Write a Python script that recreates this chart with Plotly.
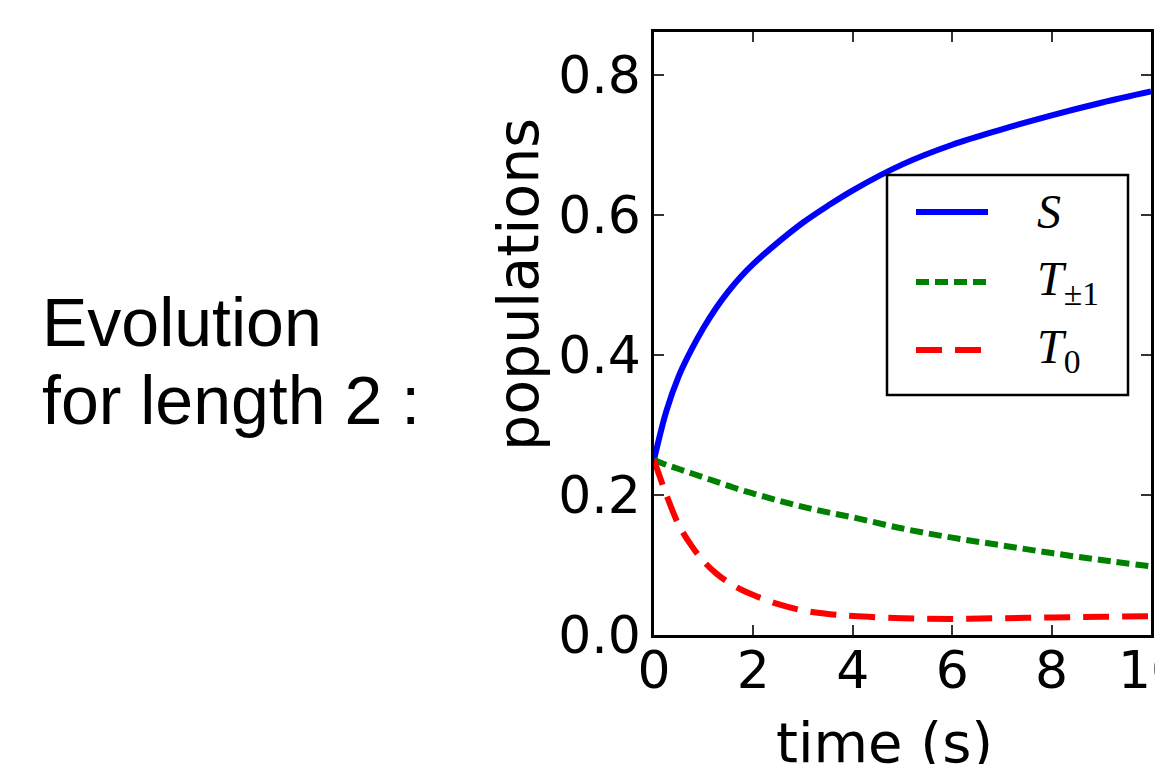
import plotly.graph_objects as go

# ---- data ----
time_s = [0, 0.25, 0.5, 0.75, 1, 1.25, 1.5, 1.75, 2, 2.5, 3, 3.5, 4, 5, 6, 7, 8, 9, 10]
pop_S = [0.25, 0.32, 0.37, 0.407, 0.439, 0.467, 0.491, 0.512, 0.530, 0.561, 0.589, 0.613, 0.635, 0.672, 0.700, 0.722, 0.742, 0.760, 0.776]
pop_Tpm1 = [0.25, 0.243, 0.237, 0.231, 0.225, 0.219, 0.213, 0.207, 0.202, 0.192, 0.183, 0.175, 0.168, 0.152, 0.139, 0.128, 0.117, 0.107, 0.098]
pop_T0 = [0.25, 0.200, 0.157, 0.128, 0.105, 0.088, 0.075, 0.065, 0.057, 0.044, 0.035, 0.030, 0.027, 0.024, 0.023, 0.024, 0.025, 0.026, 0.027]

x_ticks = [0, 2, 4, 6, 8, 10]
y_ticks = [0.0, 0.2, 0.4, 0.6, 0.8]
y_tick_text = ["0.0", "0.2", "0.4", "0.6", "0.8"]

legend_names = ["<i>S</i>", "<i>T</i><sub>±1</sub>", "<i>T</i><sub>0</sub>"]
colors = ["#0000ff", "#008000", "#ff0000"]
dashes = ["solid", "13px,6px", "26px,13px"]
series = [pop_S, pop_Tpm1, pop_T0]

W, H = 1155, 764
L, R, T, B = 654, 1151, 32, 635

def px(x):
    return (x - L) / (R - L)

def py(y):
    return (B - y) / (B - T)

fig = go.Figure()
for vals, c, d, name in zip(series, colors, dashes, legend_names):
    fig.add_trace(go.Scatter(x=time_s, y=vals, mode="lines", name=name,
                             line=dict(color=c, width=6, dash=d, shape="spline", smoothing=1.0),
                             showlegend=False))

axis_common = dict(showgrid=False, zeroline=False, showline=True, linecolor="black",
                   linewidth=2.5, mirror="allticks", ticks="inside", ticklen=10,
                   tickwidth=1.5, tickcolor="#333333", automargin=False,
                   tickfont=dict(family="DejaVu Sans", size=52, color="black"))

fig.update_xaxes(range=[0, 10], tickvals=x_ticks, ticklabeloverflow="allow",
                 ticklabelstandoff=-12, **axis_common)
fig.update_yaxes(range=[0, 0.861], tickvals=y_ticks, ticktext=y_tick_text, **axis_common)

shapes = []
annotations = []
# legend box
shapes.append(dict(type="rect", xref="paper", yref="paper", x0=px(887), x1=px(1128),
                   y0=py(395), y1=py(175), line=dict(color="black", width=2.5),
                   fillcolor="white", layer="above"))
leg_y = [212, 282, 350]
for yy, c, d, name in zip(leg_y, colors, dashes, legend_names):
    shapes.append(dict(type="line", xref="paper", yref="paper", x0=px(916), x1=px(988),
                       y0=py(yy), y1=py(yy), line=dict(color=c, width=6, dash=d),
                       layer="above"))
    annotations.append(dict(xref="paper", yref="paper", x=px(1035), y=py(yy),
                            xanchor="left", yanchor="middle", showarrow=False, text=name,
                            font=dict(family="Liberation Serif", size=48, color="black")))

# axis titles
annotations.append(dict(xref="paper", yref="paper", x=px(884), y=py(708),
                        xanchor="center", yanchor="top", showarrow=False, text="time (s)",
                        font=dict(family="DejaVu Sans", size=56, color="black")))
annotations.append(dict(xref="paper", yref="paper", x=px(518), y=py(285),
                        xanchor="center", yanchor="middle", showarrow=False, text="populations",
                        textangle=-90,
                        font=dict(family="DejaVu Sans", size=57, color="black")))
# side text
annotations.append(dict(xref="paper", yref="paper", x=px(40), y=py(322),
                        xanchor="left", yanchor="middle", showarrow=False, text="Evolution",
                        font=dict(family="Liberation Sans", size=68, color="black")))
annotations.append(dict(xref="paper", yref="paper", x=px(40), y=py(400),
                        xanchor="left", yanchor="middle", showarrow=False, text="for length 2 :",
                        font=dict(family="Liberation Sans", size=68, color="black")))

fig.update_layout(width=W, height=H, margin=dict(l=L, r=W - R, t=T, b=H - B, autoexpand=False),
                  paper_bgcolor="white", plot_bgcolor="white",
                  shapes=shapes, annotations=annotations, showlegend=False)

fig.write_html("out.html")
